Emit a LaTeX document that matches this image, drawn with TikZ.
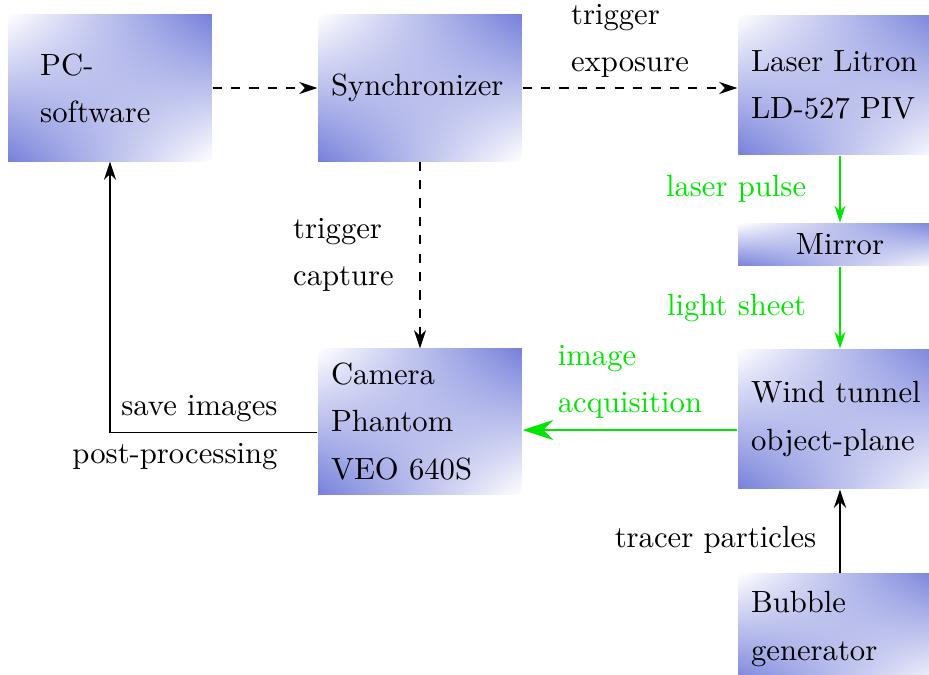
\documentclass[tikz,border=0pt]{standalone}
\usetikzlibrary{arrows.meta,shadings}
\usepackage{xcolor}
\definecolor{boxblue}{HTML}{7680DA}
\definecolor{beam}{HTML}{00E600}

\tikzset{
  block/.style={rectangle,
    upper left=white, lower right=white, upper right=boxblue, lower left=boxblue,
    minimum width=66.5pt, text width=58pt, inner xsep=4.2pt, inner ysep=2pt,
    align=left, font=\linespread{1.28}\selectfont},
  note/.style={align=left, font=\linespread{1.28}\selectfont},
  sig/.style={dashed, -{Stealth[length=6pt,width=4pt]}},
  flow/.style={-{Stealth[length=6pt,width=4pt]}},
  optic/.style={color=beam, -{Stealth[length=5.5pt,width=3.6pt]}},
}

\begin{document}
\begin{tikzpicture}[x=0.326pt, y=-0.326pt]
  \useasboundingbox (0,0) rectangle (929,675);

  % control and recording
  \node[block, minimum height=47.6pt, text width=45.5pt, inner xsep=10.5pt] (pc) at (110,88) {PC-\\software};
  \node[block, minimum height=47.6pt] (sync) at (420,88) {Synchronizer};
  \node[block, minimum height=47.3pt] (camera) at (420,421.5) {Camera\\Phantom\\VEO 640S};

  % optical path
  \node[block, minimum height=45.6pt] (laser) at (840,85) {Laser Litron\\LD-527 PIV};
  \node[block, minimum height=14pt, align=center] (mirror) at (840,244.5) {Mirror};
  \node[block, minimum height=45.6pt] (wind) at (840,419) {Wind tunnel\\object-plane};
  \node[block, minimum height=35.9pt] (bubble) at (840,629) {Bubble\\generator};

  \coordinate (grab) at ([yshift=-3.6pt]wind.west);

  \draw[sig] (pc) -- (sync);
  \draw[sig] (sync.east) -- node[note, above] {trigger\\exposure} (sync.east -| laser.west);
  \draw[sig] (sync) -- node[note, left=5pt] {trigger\\capture} (camera);
  \draw[flow] ([yshift=-3.5pt]camera.west) -| node[pos=0.07, above left] {save images}
    node[pos=0.07, below left] {post-processing} (pc.south);

  \draw[optic] (laser) -- node[left=7.5pt] {laser pulse} (mirror);
  \draw[optic] (mirror) -- node[left=7.5pt] {light sheet} (wind);
  \draw[optic, thick, -{Stealth[length=10pt,width=6.5pt]}] (grab) -- node[note, above] {image\\acquisition} (grab -| camera.east);
  \draw[flow] (bubble) -- node[pos=0.4, left=4.2pt] {tracer particles} (wind);
\end{tikzpicture}
\end{document}
